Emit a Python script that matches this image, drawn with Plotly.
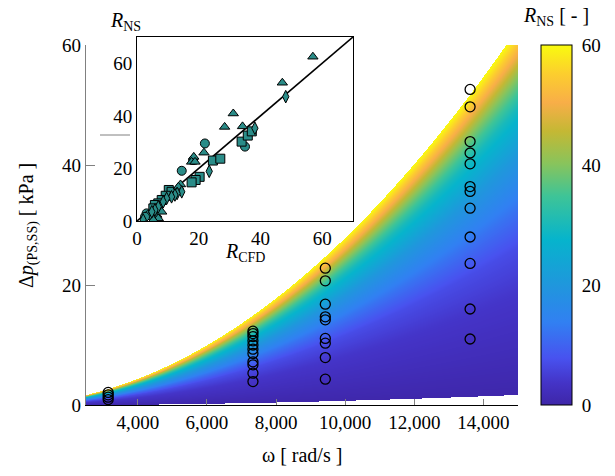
import numpy as np
import plotly.graph_objects as go

# ---------------- data ----------------
# operating points (rad/s) and pressure differences (kPa)
omega_cases = [3141.6, 7330.4, 9424.8, 13613.6]
dp_case1 = [2.1, 1.7, 1.3, 0.9]
dp_case2 = [12.3, 11.9, 11.4, 10.7, 10.0, 9.3, 8.6, 7.2, 6.7, 5.3, 3.9]
dp_case3 = [22.8, 20.7, 16.8, 14.7, 14.2, 11.1, 10.3, 7.9, 4.3]
dp_case4 = [52.6, 49.7, 43.9, 42.0, 40.2, 36.4, 35.6, 32.8, 28.0, 23.6, 16.0, 11.0]

# inset: R_CFD vs R_NS
cfd_circ = [22.0, 14.5, 18.2, 35.0, 3.1, 3.9, 2.6]
ns_circ = [29.5, 19.1, 23.2, 28.3, 2.9, 2.3, 1.6]
cfd_sq = [24.6, 27.0, 20.3, 19.0, 17.7, 33.9, 35.9, 37.2, 10.3, 11.2, 9.3, 8.0, 6.9, 5.8, 5.3]
ns_sq = [23.0, 23.7, 16.8, 15.6, 14.7, 30.2, 32.5, 34.1, 11.8, 11.1, 9.6, 8.0, 6.7, 6.1, 4.8]
cfd_tri = [57.0, 47.1, 31.2, 28.4, 34.2, 18.4, 17.7, 18.8, 21.7, 14.1, 13.4, 6.4, 6.9, 5.3, 8.0]
ns_tri = [62.5, 52.6, 40.9, 35.8, 36.0, 24.4, 22.5, 22.5, 26.0, 13.9, 13.0, 2.3, 1.0, 0.4, 3.5]
cfd_dia = [48.2, 38.2, 23.4, 14.5, 13.0, 12.3, 11.2, 9.6, 8.5, 6.9, 5.8, 4.8, 2.0]
ns_dia = [47.3, 35.3, 18.9, 11.1, 10.5, 9.9, 9.2, 8.6, 7.3, 5.4, 4.2, 3.5, 0.4]

# model field parameters
omega_lim = [2500, 15000]
dp_coef = 2.8e-7          # kPa / (rad/s)^2
low_frac = 0.028
q_knots = [0, 0.03, 0.07, 0.13, 0.21, 0.34, 0.48, 0.58, 0.70, 1.0]   # 1 - dp/dp_max
r_knots = [60, 56, 50, 40, 30, 20, 12, 7, 4, 0]

x_ticks = [4000, 6000, 8000, 10000, 12000, 14000]
x_ticktext = ["4,000", "6,000", "8,000", "10,000", "12,000", "14,000"]
y_ticks = [0, 20, 40, 60]
cbar_dash_vals = [20, 40]

parula = [
    [0.00, "#3e26a8"], [0.06, "#4433c6"], [0.13, "#4852ef"], [0.23, "#3180f2"],
    [0.33, "#2096dd"], [0.46, "#06b4cc"], [0.58, "#3ec497"], [0.67, "#88c45c"],
    [0.76, "#c4b834"], [0.84, "#f8ae48"], [0.92, "#fcce2e"], [1.00, "#f9fb0e"],
]

FONT = "Liberation Serif, Times New Roman, DejaVu Serif, serif"
TEAL = "#2a8c88"

# ---------------- field ----------------
W = np.linspace(omega_lim[0], omega_lim[1], 433)
P = np.linspace(0, 62, 373)
Wg, Pg = np.meshgrid(W, P)
pmax = dp_coef * Wg ** 2
q = 1 - Pg / pmax
R = np.interp(q, q_knots, r_knots)
mask = (Pg >= low_frac * pmax) & (Pg <= pmax)
Z = np.where(mask, np.round(R, 1), np.nan)
Zl = [[None if np.isnan(v) else float(v) for v in row] for row in Z]

CB_X0 = (541 - 86) / 432
CB_X1 = (572 - 86) / 432

fig = go.Figure()
fig.add_trace(go.Heatmap(
    x=W, y=P, z=Zl, zmin=0, zmax=60, colorscale=parula, zsmooth=False,
    hoverinfo="skip",
    colorbar=dict(
        x=CB_X0, xanchor="left", thickness=31, xpad=0,
        y=0, yanchor="bottom", len=360 / 368, lenmode="fraction", ypad=0,
        outlinecolor="black", outlinewidth=1,
        tickvals=y_ticks, ticks="outside", ticklen=6, tickcolor="rgba(0,0,0,0)",
        tickfont=dict(family=FONT, size=19, color="black"),
    ),
))

for om, dps in zip(omega_cases, [dp_case1, dp_case2, dp_case3, dp_case4]):
    fig.add_trace(go.Scatter(
        x=[om] * len(dps), y=dps, mode="markers",
        marker=dict(symbol="circle-open", size=10, color="black", line=dict(width=1.3)),
        showlegend=False, hoverinfo="skip",
    ))

# inset
fig.add_trace(go.Scatter(x=[0, 70], y=[0, 70], mode="lines", xaxis="x2", yaxis="y2",
                         line=dict(color="black", width=1.6), showlegend=False))
for xs, ys, sym, sz in [(cfd_circ, ns_circ, "circle", 9), (cfd_sq, ns_sq, "square", 9),
                        (cfd_tri, ns_tri, "triangle-up", 9), (cfd_dia, ns_dia, "diamond-tall", 9)]:
    fig.add_trace(go.Scatter(
        x=xs, y=ys, mode="markers", xaxis="x2", yaxis="y2",
        marker=dict(symbol=sym, size=sz, color=TEAL, line=dict(color="black", width=1)),
        showlegend=False,
    ))

shapes = [
    dict(type="rect", xref="x2 domain", yref="y2 domain", x0=0, x1=1, y0=0, y1=1,
         fillcolor="#d9d9d9", line=dict(width=0), layer="below"),
    dict(type="line", xref="x", yref="y", x0=2905, x1=3773, y0=45, y1=45,
         line=dict(color="#808080", width=1)),
]
for v in cbar_dash_vals:
    for a, b in [(CB_X0, CB_X0 + 8 / 432), (CB_X1 - 8 / 432, CB_X1)]:
        shapes.append(dict(type="line", xref="paper", yref="y", x0=a, x1=b, y0=v, y1=v,
                           line=dict(color="#8a8a8a", width=1)))

tickfont = dict(family=FONT, size=19, color="black")
fig.update_layout(
    width=615, height=476,
    margin=dict(l=86, r=97, t=37, b=71),
    paper_bgcolor="white", plot_bgcolor="white",
    font=dict(family=FONT, size=19, color="black"),
    xaxis=dict(domain=[0, 1], range=omega_lim, tickvals=x_ticks, ticktext=x_ticktext,
               showline=True, linecolor="black", linewidth=1.2, ticks="inside", ticklen=6,
               tickcolor="#808080", showgrid=False, zeroline=False, tickfont=tickfont),
    yaxis=dict(domain=[0, 360 / 368], range=[0, 60], tickvals=y_ticks,
               showline=True, linecolor="#808080", linewidth=1.2, ticks="inside", ticklen=9,
               tickcolor="#808080", showgrid=False, zeroline=False, tickfont=tickfont),
    xaxis2=dict(domain=[(137 - 86) / 432, (353 - 86) / 432], anchor="y2", range=[0, 70],
                tickvals=y_ticks, showgrid=True, gridcolor="white", gridwidth=2,
                showline=True, mirror=True, linecolor="black", linewidth=1,
                ticks="", zeroline=False, tickfont=tickfont),
    yaxis2=dict(domain=[(405 - 221) / 368, 1.0], anchor="x2", range=[0, 70],
                tickvals=y_ticks, showgrid=True, gridcolor="white", gridwidth=2,
                showline=True, mirror=True, linecolor="black", linewidth=1,
                ticks="", zeroline=False, tickfont=tickfont),
    shapes=shapes,
    annotations=[
        dict(text="ω [ rad/s ]", xref="paper", yref="paper", x=0.5, y=-0.135,
             xanchor="center", yanchor="middle", showarrow=False, font=dict(size=20)),
        dict(text="Δ<i>p</i><sub>(PS,SS)</sub> [ kPa ]", xref="paper", yref="paper",
             x=-58 / 432, y=(405 - 225) / 368, textangle=-90, xanchor="center", yanchor="middle",
             showarrow=False, font=dict(size=20)),
        dict(text="<i>R</i><sub>NS</sub> [ - ]", xref="paper", yref="paper",
             x=(556 - 86) / 432, y=(405 - 17) / 368, xanchor="center", yanchor="middle",
             showarrow=False, font=dict(size=20)),
        dict(text="<i>R</i><sub>NS</sub>", xref="paper", yref="paper",
             x=(125 - 86) / 432, y=(405 - 21) / 368, xanchor="center", yanchor="middle",
             showarrow=False, font=dict(size=20)),
        dict(text="<i>R</i><sub>CFD</sub>", xref="paper", yref="paper",
             x=(245 - 86) / 432, y=(405 - 252) / 368, xanchor="center", yanchor="middle",
             showarrow=False, font=dict(size=20)),
    ],
)

fig.write_html("out.html")
